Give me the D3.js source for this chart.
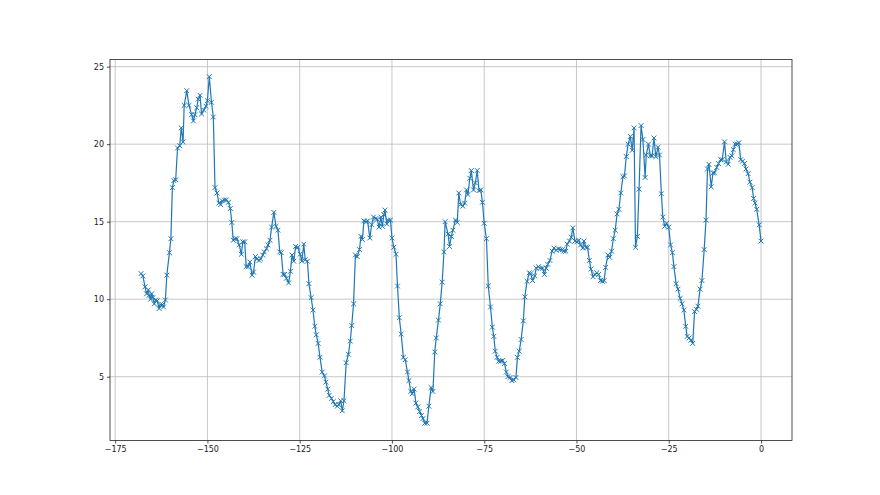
<!DOCTYPE html>
<html><head><meta charset="utf-8">
<script src="https://cdn.jsdelivr.net/npm/d3@7"></script>
<style>
body{margin:0;background:#fff}
svg{display:block}
.tick text{font-family:"DejaVu Sans",sans-serif;font-size:8px;fill:#222}
</style>
</head><body><svg id="c" width="880" height="495"></svg>
<script>
const xValues=[
-168.0,-167.5,-166.9,-166.5,-166.0,-165.8,-165.4,-165.1,-164.8,-164.4,-164.0,-163.6,-163.1,-162.8,-162.2,-161.9,-161.4,-161.0,-160.3,-159.9,
-159.5,-159.1,-158.6,-158.1,-157.5,-157.1,-156.6,-156.3,-155.6,-155.0,-154.3,-153.8,-153.4,-152.9,-152.5,-152.0,-151.6,-151.0,-150.4,-150.0,
-149.5,-148.9,-148.4,-147.95,-147.4,-146.9,-146.4,-146.0,-145.4,-144.9,-144.3,-143.8,-143.4,-143.0,-142.5,-142.0,-141.4,
-140.8,-140.4,-139.9,-139.5,-139.0,-138.5,-137.9,-137.5,-137.0,-136.6,-136.0,-135.6,-135.0,-134.6,-134.0,-133.6,-133.05,-132.6,-132.0,-131.4,
-130.9,-130.4,-130.0,-129.5,-129.1,-128.6,-128.0,-127.5,-127.1,-126.6,-126.1,-125.5,-124.9,-124.4,-123.9,-123.5,-122.9,-122.5,-121.9,-121.4,
-120.9,-120.5,-120.0,-119.5,-118.9,-118.3,-117.9,-117.4,-117.0,-116.4,-115.9,-115.4,-114.8,-114.4,-113.9,-113.45,-113.0,
-112.4,-111.8,-111.3,-110.9,-110.4,-109.9,-109.4,-108.8,-108.4,-108.0,-107.6,-107.0,-106.6,-106.0,-105.5,-105.0,-104.4,-104.0,-103.5,-103.0,
-102.6,-102.2,-101.9,-101.4,-101.0,-100.4,-100.0,-99.5,-98.9,-98.5,-98.0,-97.5,-96.9,-96.4,-95.8,-95.4,-94.9,-94.5,-94.0,-93.5,
-93.0,-92.5,-92.0,-91.6,-91.1,-90.5,-90.0,-89.4,-88.9,-88.4,-88.0,-87.4,-86.9,-86.4,-85.9,-85.6,
-84.8,-84.4,-83.9,-83.5,-82.8,-82.3,-81.9,-81.4,-80.8,-80.3,-79.8,-79.4,-78.9,-78.5,-77.9,-77.4,-76.9,-76.4,-75.9,-75.5,
-75.0,-74.4,-73.9,-73.3,-72.8,-72.4,-72.0,-71.5,-71.1,-70.5,-70.0,-69.5,-69.0,-68.6,-68.0,-67.5,-67.0,-66.4,-66.0,-65.5,
-65.0,-64.4,-64.0,-63.4,-62.8,-62.4,-61.9,-61.3,-60.9,-60.3,-59.8,-59.2,-58.7,-58.2,-57.8,-57.2,-56.6,-56.1,
-55.5,-54.9,-54.4,-53.8,-53.4,-52.9,-52.5,-51.9,-51.4,-51.0,-50.4,-49.9,-49.4,-48.9,-48.3,-48.0,-47.4,-47.0,-46.5,-46.1,
-45.5,-45.0,-44.5,-44.0,-43.5,-43.0,-42.5,-42.1,-41.5,-41.0,-40.5,-40.0,-39.5,-39.0,-38.5,-38.0,-37.4,-37.0,-36.5,-36.0,
-35.4,-34.9,-34.4,-34.0,-33.5,-33.05,-32.5,-32.0,-31.4,-31.1,-30.5,-30.0,-29.5,-29.0,-28.5,-27.9,
-27.5,-27.0,-26.6,-26.1,-25.6,-25.0,-24.5,-24.0,-23.6,-23.0,-22.5,-21.9,-21.4,-20.9,-20.4,-20.0,-19.5,-19.0,-18.5,-18.0,
-17.5,-17.1,-16.5,-16.0,-15.4,-14.9,-14.5,-14.1,-13.5,-13.0,-12.6,-12.0,-11.5,-10.9,-10.5,-9.9,-9.4,-8.9,-8.4,-7.9,
-7.5,-7.0,-6.5,-6.0,-5.5,-5.0,-4.5,-4.06,-3.5,-3.0,-2.4,-2.0,-1.6,-1.17,-0.5,0.0
];
const yValues=[
11.65,11.5,10.8,10.35,10.6,10.25,10.0,10.35,10.1,9.7,9.95,9.9,9.4,9.65,9.65,9.5,9.95,11.55,13.0,13.9,
17.2,17.65,17.7,19.75,19.9,21.05,20.15,22.5,23.45,22.5,21.9,21.5,21.9,22.35,22.9,23.15,21.95,22.2,22.45,22.8,
24.35,22.7,21.75,17.2,16.85,16.2,16.1,16.35,16.4,16.4,16.25,15.85,14.95,13.8,13.9,13.9,13.5,
12.9,13.7,13.7,12.1,12.1,12.4,11.55,11.75,12.75,12.6,12.5,12.6,12.85,13.05,13.25,13.5,13.8,14.65,15.6,14.7,
14.45,13.05,13.0,11.6,11.6,11.35,11.05,11.8,12.85,12.45,13.4,13.35,12.9,12.45,13.55,12.55,12.45,11.0,10.1,9.3,
8.25,7.7,7.15,6.25,5.3,5.05,4.65,4.2,3.8,3.6,3.4,3.2,3.1,3.2,3.45,2.8,3.45,
5.9,6.45,7.3,8.3,9.7,12.85,12.75,13.2,14.05,13.85,15.05,15.0,15.05,13.95,14.8,15.3,15.2,15.15,14.65,15.3,
14.7,15.45,15.75,14.85,15.1,15.1,13.95,13.35,12.9,10.85,8.8,7.75,6.25,6.1,5.3,4.75,4.05,3.9,4.2,3.3,
3.05,2.75,2.5,2.3,2.0,2.0,3.1,4.3,4.05,6.6,7.5,8.65,9.7,11.1,13.05,15.0,
14.2,13.4,14.05,14.45,15.1,14.95,16.85,16.1,16.0,16.2,17.05,16.75,17.8,18.3,17.05,17.5,18.3,17.0,17.05,16.25,
14.9,13.9,10.85,9.5,8.2,7.6,6.65,6.25,6.0,6.0,6.05,5.85,5.3,5.0,4.95,4.75,4.8,4.95,6.25,6.65,
7.4,8.6,10.15,11.15,11.7,11.65,11.2,11.5,12.0,12.1,12.0,12.0,11.6,12.0,12.25,12.5,13.1,13.3,
13.15,13.25,13.2,13.2,13.1,13.1,13.55,13.75,14.0,14.6,13.75,13.7,13.8,13.5,13.3,13.75,13.35,13.35,12.5,11.95,
11.45,11.6,11.7,11.6,11.2,11.15,11.2,12.05,12.85,12.7,13.1,13.9,14.45,15.5,15.8,16.85,17.9,17.95,19.2,20.0,
20.5,19.6,21.05,13.35,14.05,17.1,21.2,20.3,17.85,19.3,20.0,19.25,19.25,20.4,19.2,19.8,
19.3,16.8,15.3,14.7,14.9,14.65,13.5,13.0,12.1,11.0,10.65,10.05,9.7,9.3,8.25,7.6,7.5,7.35,7.15,9.2,
9.35,9.55,10.65,11.2,13.2,15.1,18.4,18.7,17.25,18.15,18.15,18.5,18.75,19.0,19.0,20.15,18.85,18.7,19.15,19.25,
19.65,20.0,20.0,20.1,19.0,18.9,18.75,18.4,18.1,17.55,17.2,16.5,16.2,15.8,14.8,13.75
];
const xTicks=[-175,-150,-125,-100,-75,-50,-25,0];
const yTicks=[5,10,15,20,25];

const W=880,H=495;
const m={left:110,right:792,top:59.4,bottom:440.55};
const svg=d3.select("#c");
svg.append("rect").attr("width",W).attr("height",H).attr("fill","#fff");

const pts=xValues.map((x,i)=>({x:x,y:yValues[i]}));
const xe=d3.extent(xValues), ye=d3.extent(yValues);
const xp=(xe[1]-xe[0])*0.05, yp=(ye[1]-ye[0])*0.05;
const x=d3.scaleLinear().domain([xe[0]-xp,xe[1]+xp]).range([m.left,m.right]);
const y=d3.scaleLinear().domain([ye[0]-yp,ye[1]+yp]).range([m.bottom,m.top]);

// grid
const grid=svg.append("g");
grid.selectAll("line.gx").data(xTicks).join("line")
  .attr("x1",d=>x(d)).attr("x2",d=>x(d)).attr("y1",m.top).attr("y2",m.bottom)
  .attr("stroke","#b0b0b0").attr("stroke-width",0.7);
grid.selectAll("line.gy").data(yTicks).join("line")
  .attr("y1",d=>y(d)).attr("y2",d=>y(d)).attr("x1",m.left).attr("x2",m.right)
  .attr("stroke","#b0b0b0").attr("stroke-width",0.7);

// line
const color="#1f77b4";
svg.append("path").datum(pts)
  .attr("d",d3.line().x(d=>x(d.x)).y(d=>y(d.y)))
  .attr("fill","none").attr("stroke",color).attr("stroke-width",1.2).attr("stroke-linejoin","round");

// markers
const s=2.4;
svg.append("g").selectAll("path").data(pts).join("path")
  .attr("transform",d=>`translate(${x(d.x)},${y(d.y)})`)
  .attr("d",`M${-s},${-s}L${s},${s}M${-s},${s}L${s},${-s}`)
  .attr("stroke",color).attr("stroke-width",1).attr("fill","none");

// frame
svg.append("rect").attr("x",m.left).attr("y",m.top)
  .attr("width",m.right-m.left).attr("height",m.bottom-m.top)
  .attr("fill","none").attr("stroke","#222").attr("stroke-width",0.8);

// axes
const xa=svg.append("g").attr("transform",`translate(0,${m.bottom})`)
  .call(d3.axisBottom(x).tickValues(xTicks).tickSize(3).tickPadding(3).tickFormat(d3.format("d")));
const ya=svg.append("g").attr("transform",`translate(${m.left},0)`)
  .call(d3.axisLeft(y).tickValues(yTicks).tickSize(3).tickPadding(3).tickFormat(d3.format("d")));
[xa,ya].forEach(a=>{a.select(".domain").remove();a.selectAll(".tick line").attr("stroke","#222").attr("stroke-width",0.8);a.selectAll(".tick text").attr("font-family",null).attr("font-size",null);});
</script>
</body></html>
